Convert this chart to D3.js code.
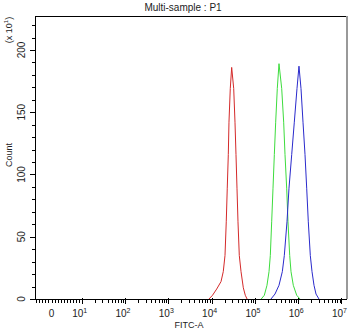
<!DOCTYPE html>
<html>
<head>
<meta charset="utf-8">
<script src="https://cdn.jsdelivr.net/npm/d3@7"></script>
<style>
  body { margin: 0; background: #fff; }
  svg { display: block; font-family: "Liberation Sans", Arial, sans-serif; }
  .tick-line { stroke: #000; stroke-width: 1; shape-rendering: crispEdges; }
  .trace { fill: none; stroke-width: 1; }
</style>
</head>
<body>
<div id="chart"></div>
<script>
// FITC-A intensity (x) and count in units of 10 (y)
let redX = [8700, 10500, 13100, 16500, 18600, 20400, 21800, 23000, 24300, 25200, 27000, 29100,
    32400, 34700, 36600, 38600, 40700, 43600, 47800, 54000, 60000, 66000]
let redY = [0, 3, 8, 14, 22, 35, 62, 89, 116, 142, 169, 186,
    169, 142, 116, 89, 62, 35, 22, 9, 3, 0]

let greenX = [140000, 165000, 190000, 212000, 227000, 244000, 262000, 281000, 302000, 329000, 360000,
    416000, 462000, 496000, 542000, 581000, 636000, 682000, 771000, 923000, 1100000]
let greenY = [0, 3, 11, 22, 35, 62, 89, 116, 142, 169, 189,
    169, 142, 116, 89, 62, 35, 22, 11, 3, 0]

let blueX = [235000, 291000, 360000, 430000, 478000, 551000, 613000, 708000, 813000, 938000, 1042000,
    1161000, 1291000, 1436000, 1571000, 1711000, 1903000, 2084000, 2317000, 2577000, 3020000]
let blueY = [0, 4, 11, 22, 35, 62, 89, 116, 142, 169, 187,
    169, 142, 116, 89, 62, 35, 22, 11, 4, 0]

let yTicks = [0, 50, 100, 150, 200]
let xDecades = [1, 2, 3, 4, 5, 6, 7]

let width = 350
let height = 332
let margin = { top: 16, right: 4, bottom: 33, left: 35 }
let x0 = margin.left
let x1 = width - margin.right
let yBottom = height - margin.bottom
let decade = 43.3
let tenPos = 81.7

// linear piece below 10, log above
let xLin = d3.scaleLinear().domain([0, 10]).range([tenPos - 30.2, tenPos])
let xLog = d3.scaleLog().domain([10, 1e7]).range([tenPos, tenPos + 6 * decade])
let x = (v) => v < 10 ? xLin(v) : xLog(v)

let y = d3.scaleLinear().domain([0, 227.3]).range([yBottom, margin.top])

let svg = d3.select('#chart').append('svg')
    .attr('width', width)
    .attr('height', height)

svg.append('rect').attr('width', width).attr('height', height).attr('fill', '#fff')

// frame
svg.append('line').attr('class', 'tick-line')
    .attr('x1', x0).attr('x2', x1 + 1).attr('y1', margin.top + 0.5).attr('y2', margin.top + 0.5)
    .attr('stroke', '#222')
svg.append('line')
    .attr('x1', x1 + 0.5).attr('x2', x1 + 0.5).attr('y1', margin.top).attr('y2', yBottom)
    .attr('stroke', '#999').attr('stroke-width', 2).attr('shape-rendering', 'crispEdges')
svg.append('line').attr('class', 'tick-line')
    .attr('x1', x0 + 0.5).attr('x2', x0 + 0.5).attr('y1', margin.top).attr('y2', yBottom + 1)
svg.append('line').attr('class', 'tick-line')
    .attr('x1', x0).attr('x2', x1 + 1).attr('y1', yBottom + 0.5).attr('y2', yBottom + 0.5)

// y ticks
let yMinor = d3.range(0, 230, 10)
svg.append('g').selectAll('line').data(yMinor).join('line')
    .attr('class', 'tick-line')
    .attr('x1', (d) => yTicks.includes(d) ? x0 - 5 : x0 - 3)
    .attr('x2', x0)
    .attr('y1', (d) => Math.round(y(d)) + 0.5)
    .attr('y2', (d) => Math.round(y(d)) + 0.5)

svg.append('g').selectAll('text').data(yTicks).join('text')
    .attr('transform', (d) => `translate(25,${y(d)}) rotate(-90)`)
    .attr('text-anchor', 'middle')
    .attr('font-size', 10)
    .attr('fill', '#222')
    .text((d) => d)

// x ticks
let xMinorLin = d3.range(-5, 10, 1)
let xMinorLog = xLog.ticks().filter((d) => d > 10)
let xMajor = xDecades.map((d) => Math.pow(10, d))
let xAll = xMinorLin.concat(xMinorLog).filter((d) => !xMajor.includes(d))

svg.append('g').selectAll('line').data(xAll).join('line')
    .attr('class', 'tick-line')
    .attr('x1', (d) => Math.round(x(d)) + 0.5)
    .attr('x2', (d) => Math.round(x(d)) + 0.5)
    .attr('y1', yBottom)
    .attr('y2', yBottom + 4)

svg.append('g').selectAll('line').data(xMajor).join('line')
    .attr('class', 'tick-line')
    .attr('x1', (d) => Math.round(x(d)) + 0.5)
    .attr('x2', (d) => Math.round(x(d)) + 0.5)
    .attr('y1', yBottom - 1)
    .attr('y2', yBottom + 5)

let xLabels = svg.append('g').attr('font-size', 10).attr('fill', '#222')
xLabels.append('text')
    .attr('x', x(0)).attr('y', 317)
    .attr('text-anchor', 'middle')
    .text('0')
xDecades.forEach((p) => {
    let t = xLabels.append('text')
        .attr('x', x(Math.pow(10, p)) - 2).attr('y', 317)
        .attr('text-anchor', 'middle')
    t.append('tspan').text('10')
    t.append('tspan').attr('font-size', 7).attr('dy', -4).text(p)
})

// titles
svg.append('text')
    .attr('x', 183).attr('y', 11)
    .attr('text-anchor', 'middle')
    .attr('font-size', 10)
    .attr('fill', '#222')
    .text('Multi-sample : P1')

svg.append('text')
    .attr('x', 189).attr('y', 328)
    .attr('text-anchor', 'middle')
    .attr('font-size', 9)
    .attr('fill', '#222')
    .text('FITC-A')

svg.append('text')
    .attr('transform', `translate(12,155) rotate(-90)`)
    .attr('text-anchor', 'middle')
    .attr('font-size', 9)
    .attr('fill', '#222')
    .text('Count')

let mult = svg.append('text')
    .attr('transform', `translate(12,30) rotate(-90)`)
    .attr('text-anchor', 'middle')
    .attr('font-size', 9)
    .attr('fill', '#222')
mult.append('tspan').text('(x 10')
mult.append('tspan').attr('font-size', 6).attr('dy', -4).text('1')
mult.append('tspan').attr('dy', 4).text(')')

// traces
let line = d3.line()
    .x((d) => x(d[0]))
    .y((d) => y(d[1]))

let series = [
    { xs: redX, ys: redY, color: '#d42a2a' },
    { xs: greenX, ys: greenY, color: '#3ddc3d' },
    { xs: blueX, ys: blueY, color: '#2a2acc' }
]

series.forEach((s) => {
    svg.append('path')
        .datum(s.xs.map((v, i) => [v, s.ys[i]]))
        .attr('class', 'trace')
        .attr('stroke', s.color)
        .attr('d', line)
})
</script>
</body>
</html>
